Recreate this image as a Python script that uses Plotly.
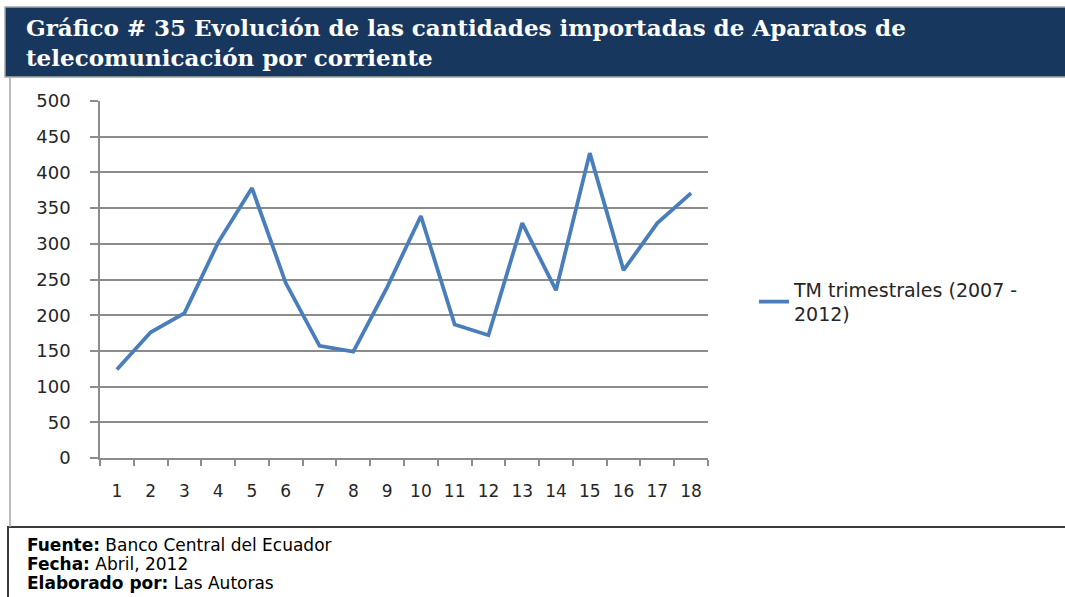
import plotly.graph_objects as go

# Quarterly imports (TM) of telecommunication equipment, 2007-2012
periodos = [str(i) for i in range(1, 19)]
toneladas = [124, 176, 203, 302, 378, 245, 157, 149, 239, 339,
             187, 172, 329, 235, 427, 263, 329, 371]
y_ticks = [0, 50, 100, 150, 200, 250, 300, 350, 400, 450, 500]

serie_nombre = "TM trimestrales (2007 -<br>2012)"
titulo = ("Gráfico # 35 Evolución de las cantidades importadas de Aparatos de<br>"
          "telecomunicación por corriente")
pie_lineas = [
    "<b>Fuente:</b> Banco Central del Ecuador",
    "<b>Fecha:</b> Abril, 2012",
    "<b>Elaborado por:</b> Las Autoras",
]

W, H = 1065, 597
L, R, T, B = 100, 708, 101, 458  # plot area in pixels


def px(x):
    return (x - L) / (R - L)


def py(y):
    return (B - y) / (B - T)


fig = go.Figure()
fig.add_trace(go.Scatter(
    x=periodos, y=toneladas, mode="lines", name=serie_nombre,
    line=dict(color="#4A7EBB", width=3.8),
))

grid = "#8C8C8C"
fig.update_layout(
    width=W, height=H,
    margin=dict(l=L, r=W - R, t=T, b=H - B, pad=0),
    paper_bgcolor="white", plot_bgcolor="white",
    font=dict(family="DejaVu Sans", color="#262626"),
    showlegend=True,
    legend=dict(x=px(754), y=py(302), xanchor="left", yanchor="middle",
                font=dict(size=19, family="DejaVu Sans", color="#262626"),
                bgcolor="rgba(0,0,0,0)", itemclick=False),
    xaxis=dict(type="category", range=[-0.5, 17.5], tickson="boundaries",
               ticks="outside", ticklen=6, tickcolor=grid, tickwidth=1.5,
               showline=True, linecolor=grid, linewidth=1.5,
               showgrid=False, tickfont=dict(size=17), ticklabelstandoff=17),
    yaxis=dict(range=[0, 500], tickvals=y_ticks, ticks="outside",
               ticklen=8, tickcolor=grid, tickwidth=1.5,
               showline=True, linecolor=grid, linewidth=1.5,
               showgrid=True, gridcolor=grid, gridwidth=1.5,
               tickfont=dict(size=18), ticklabelstandoff=16, zeroline=False),
)

shapes = [
    # title banner
    dict(type="rect", xref="paper", yref="paper",
         x0=px(5), x1=px(1066), y0=py(7), y1=py(77),
         fillcolor="#17375E", line=dict(color="#A6A6A6", width=1.5), layer="below"),
    # chart frame, left edge
    dict(type="line", xref="paper", yref="paper",
         x0=px(10), x1=px(10), y0=py(78), y1=py(527),
         line=dict(color="#A6A6A6", width=1.5)),
    # footer box
    dict(type="rect", xref="paper", yref="paper",
         x0=px(8), x1=px(1070), y0=py(527), y1=py(600),
         fillcolor="white", line=dict(color="#3A3A3A", width=2), layer="below"),
]
fig.update_layout(shapes=shapes)

fig.add_annotation(
    text=titulo, xref="paper", yref="paper", x=px(24), y=py(43),
    xanchor="left", yanchor="middle", align="left", showarrow=False,
    font=dict(family="DejaVu Serif", size=23, color="white", weight="bold"),
)
for i, linea in enumerate(pie_lineas):
    fig.add_annotation(
        text=linea, xref="paper", yref="paper", x=px(25), y=py(545 + 19 * i),
        xanchor="left", yanchor="middle", align="left", showarrow=False,
        font=dict(family="DejaVu Sans", size=17, color="black"),
    )

fig.write_html("out.html")
